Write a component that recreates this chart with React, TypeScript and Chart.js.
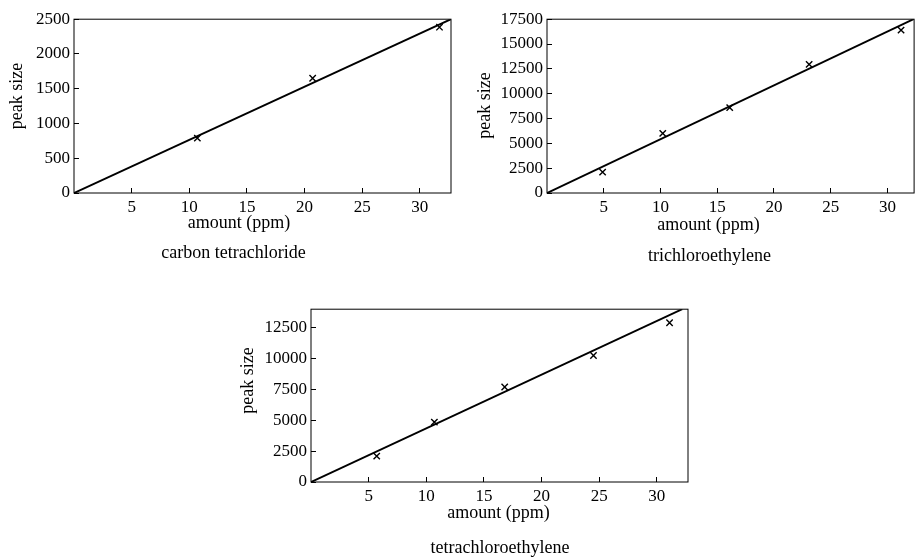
import React, { useEffect, useRef } from 'react';
import { Chart, registerables } from 'chart.js';

Chart.register(...registerables);

const FONT = '"Liberation Serif", "Times New Roman", serif';

// ---- carbon tetrachloride ----
const ctAmount = [10.7, 20.7, 31.7];
const ctPeak = [790, 1650, 2385];
const ctFitAmount = [0, 32.7];
const ctFitPeak = [0, 2500];
const ctXTicks = [5, 10, 15, 20, 25, 30];
const ctYTicks = [0, 500, 1000, 1500, 2000, 2500];

// ---- trichloroethylene ----
const tceAmount = [4.9, 10.2, 16.1, 23.1, 31.2];
const tcePeak = [2100, 6000, 8600, 12950, 16400];
const tceFitAmount = [0, 32.3];
const tceFitPeak = [0, 17500];
const tceXTicks = [5, 10, 15, 20, 25, 30];
const tceYTicks = [0, 2500, 5000, 7500, 10000, 12500, 15000, 17500];

// ---- tetrachloroethylene ----
const pceAmount = [5.7, 10.7, 16.8, 24.5, 31.1];
const pcePeak = [2100, 4850, 7700, 10250, 12900];
const pceFitAmount = [0, 32.2];
const pceFitPeak = [0, 14000];
const pceXTicks = [5, 10, 15, 20, 25, 30];
const pceYTicks = [0, 2500, 5000, 7500, 10000, 12500];

const xTitle = 'amount (ppm)';
const yTitle = 'peak size';

const figText = {
  id: 'figText',
  afterDraw(chart: any, _args: any, opts: any) {
    const { ctx, chartArea } = chart;
    const { left, right, top, bottom } = chartArea;
    ctx.save();
    ctx.strokeStyle = '#000';
    ctx.lineWidth = 1;
    ctx.strokeRect(left, top, right - left, bottom - top);
    ctx.fillStyle = '#000';
    ctx.textAlign = 'center';
    ctx.textBaseline = 'middle';
    ctx.font = `${opts.size}px ${FONT}`;
    const cx = (left + right) / 2;
    const cy = (top + bottom) / 2;
    ctx.fillText(opts.xTitle, cx + opts.xDx, bottom + opts.xDy);
    ctx.fillText(opts.caption, cx + opts.capDx, bottom + opts.capDy);
    ctx.translate(left + opts.yDx, cy + opts.yDy);
    ctx.rotate(-Math.PI / 2);
    ctx.fillText(opts.yTitle, 0, 0);
    ctx.restore();
  },
};

type PanelProps = {
  left: number; top: number; w: number; h: number;
  pad: [number, number, number, number];
  yAxisW: number; xAxisH: number;
  xMax: number; yMax: number;
  xTicks: number[]; yTicks: number[];
  amount: number[]; peak: number[];
  fitAmount: number[]; fitPeak: number[];
  caption: string;
  xDx: number; xDy: number; capDx: number; capDy: number; yDx: number; yDy: number;
};

function Panel(p: PanelProps) {
  const ref = useRef<HTMLCanvasElement>(null);
  useEffect(() => {
    if (!ref.current) return;
    const tickFont = { family: FONT, size: 17 };
    const grid = { drawOnChartArea: false, drawTicks: true, tickLength: -5, color: '#000', lineWidth: 1 };
    const chart = new Chart(ref.current, {
      type: 'scatter',
      data: {
        datasets: [
          {
            data: p.fitAmount.map((x, i) => ({ x, y: p.fitPeak[i] })),
            showLine: true,
            borderColor: '#000',
            borderWidth: 2,
            pointRadius: 0,
            pointHoverRadius: 0,
            fill: false,
          },
          {
            data: p.amount.map((x, i) => ({ x, y: p.peak[i] })),
            showLine: false,
            pointStyle: 'crossRot',
            pointRadius: 4.5,
            borderColor: '#000',
            backgroundColor: '#000',
            borderWidth: 1.4,
          },
        ],
      },
      options: {
        animation: false,
        responsive: false,
        events: [],
        layout: { padding: { left: p.pad[0], top: p.pad[1], right: p.pad[2], bottom: p.pad[3] } },
        plugins: {
          legend: { display: false },
          tooltip: { enabled: false },
          figText: {
            size: 18, xTitle, yTitle, caption: p.caption,
            xDx: p.xDx, xDy: p.xDy, capDx: p.capDx, capDy: p.capDy, yDx: p.yDx, yDy: p.yDy,
          },
        } as any,
        scales: {
          x: {
            type: 'linear', position: 'bottom', min: 0, max: p.xMax,
            afterBuildTicks: (s: any) => { s.ticks = p.xTicks.map((v) => ({ value: v })); },
            afterFit: (s: any) => { s.height = p.xAxisH; },
            grid, border: { display: false },
            ticks: { padding: 9, color: '#000', font: tickFont, maxRotation: 0, autoSkip: false, callback: (v: any) => String(v) },
          },
          y: {
            type: 'linear', position: 'left', min: 0, max: p.yMax,
            afterBuildTicks: (s: any) => { s.ticks = p.yTicks.map((v) => ({ value: v })); },
            afterFit: (s: any) => { s.width = p.yAxisW; },
            grid, border: { display: false },
            ticks: { padding: 9, color: '#000', font: tickFont, autoSkip: false, callback: (v: any) => String(v) },
          },
        },
      },
      plugins: [figText],
    } as any);
    return () => chart.destroy();
  }, []);
  return (
    <canvas
      ref={ref}
      width={p.w}
      height={p.h}
      style={{ position: 'absolute', left: p.left, top: p.top, width: p.w, height: p.h }}
    />
  );
}

export default function App() {
  return (
    <div style={{ position: 'absolute', left: 0, top: 0, width: 920, height: 557, background: '#fff', overflow: 'hidden' }}>
      <Panel
        left={0} top={0} w={460} h={270}
        pad={[0, 17, 9, 47]} yAxisW={74} xAxisH={30}
        xMax={32.7} yMax={2500} xTicks={ctXTicks} yTicks={ctYTicks}
        amount={ctAmount} peak={ctPeak} fitAmount={ctFitAmount} fitPeak={ctFitPeak}
        caption="carbon tetrachloride"
        xDx={-23.5} xDy={30} capDx={-29} capDy={60} yDx={-57} yDy={-10}
      />
      <Panel
        left={460} top={0} w={460} h={270}
        pad={[0, 17, 1, 47]} yAxisW={87} xAxisH={30}
        xMax={32.35} yMax={17500} xTicks={tceXTicks} yTicks={tceYTicks}
        amount={tceAmount} peak={tcePeak} fitAmount={tceFitAmount} fitPeak={tceFitPeak}
        caption="trichloroethylene"
        xDx={-22} xDy={32} capDx={-21} capDy={63} yDx={-62} yDy={-0.5}
      />
      <Panel
        left={230} top={290} w={490} h={267}
        pad={[0, 16, 32, 45]} yAxisW={81} xAxisH={30}
        xMax={32.7} yMax={14000} xTicks={pceXTicks} yTicks={pceYTicks}
        amount={pceAmount} peak={pcePeak} fitAmount={pceFitAmount} fitPeak={pceFitPeak}
        caption="tetrachloroethylene"
        xDx={-1} xDy={31.5} capDx={0.5} capDy={66} yDx={-63} yDy={-15}
      />
    </div>
  );
}
